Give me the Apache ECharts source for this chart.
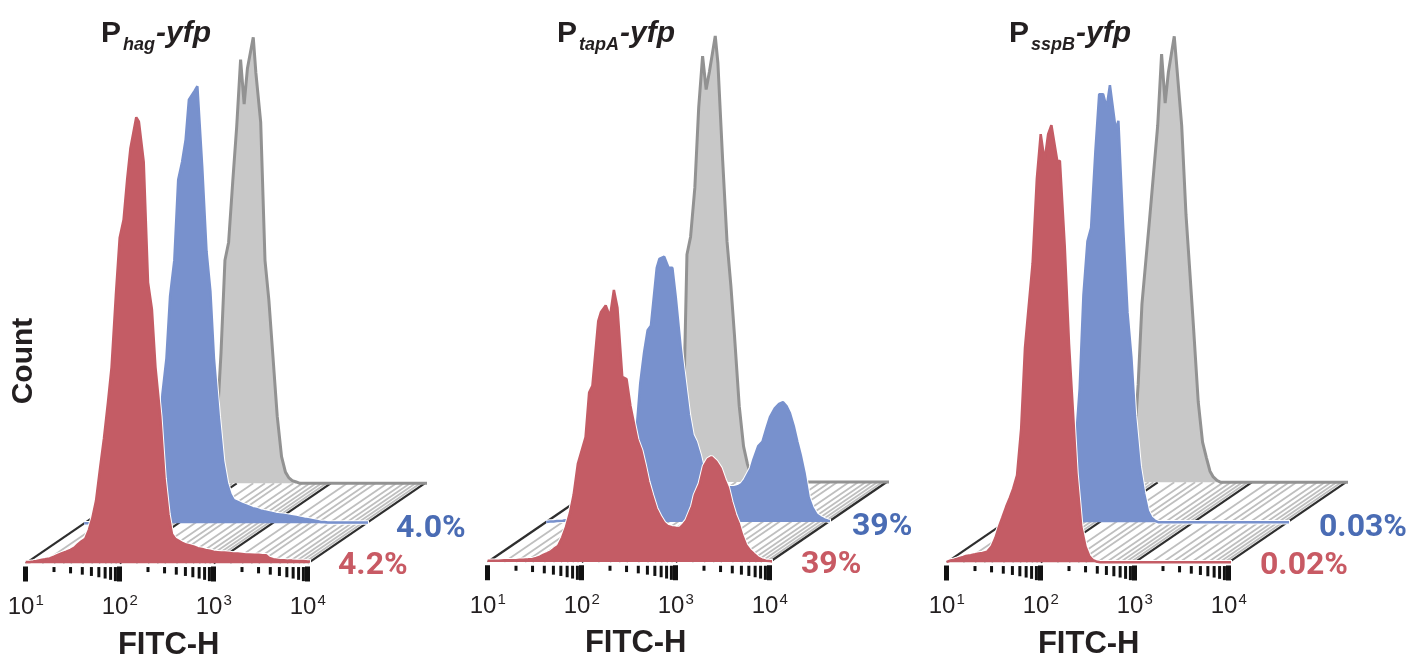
<!DOCTYPE html>
<html>
<head>
<meta charset="utf-8">
<script src="https://cdn.jsdelivr.net/npm/echarts@6/dist/echarts.min.js"></script>
<style>
html,body{margin:0;padding:0;background:#fff;}
#chart{width:1411px;height:657px;}
</style>
</head>
<body>
<div id="chart"></div>
<script>
// ---------------- DATA ----------------
// FITC-H bin values (log-spaced)
const bins = [10,11,12,13,15,16,18,20,22,24,27,30,33,36,39,43,47,51,56,62,68,75,82,91,
  100,110,120,130,150,160,180,200,220,240,270,300,330,360,390,430,470,510,560,620,680,750,820,910,
  1000,1100,1200,1300,1500,1600,1800,2000,2200,2400,2700,3000,3300,3600,3900,4300,4700,5100,5600,6200,6800,7500,8200,9100,
  10000,11000,13000];

// Panel 1: Phag-yfp (count, % of mode)
const hagRed = [0.3,0.3,0.4,0.5,0.8,0.9,1.1,1.5,1.9,2.2,2.6,3.0,3.5,4.3,4.9,5.5,7.5,10,14,21.5,28,36,44,60,
  73,77,86,93,100,99,90,63,57,44,33,19,11,6.5,5.5,5,4.5,4.2,4,3.7,3.4,3.2,3,2.8,
  2.6,2.5,2.4,2.4,2.3,2.2,2.2,2.1,2.0,2.0,1.9,1.9,1.8,1.8,1.2,0.9,0.8,0.7,0.7,0.6,0.6,0.5,0.5,0.5,
  0.4,0.4,null];
const hagBlue = [0,0,0,0.1,0.2,0.2,0.3,0.4,0.5,0.6,0.8,1,1.3,1.6,2,3,4.5,7,11,17,29,37,51,59,
  77,81,86,95,97,98,80,61,52,37,24,14,9,6.5,5.2,4.8,4.4,4.1,3.8,3.4,3.2,2.9,2.7,2.5,
  2.3,2.1,2.0,1.9,1.7,1.6,1.4,1.2,1.0,0.9,0.7,0.5,0.3,0.3,0.2,0.2,0.2,0.2,0.2,0.2,0.2,0.2,0.2,0.2,
  0.2,0.1,0];
const hagGray = [0,0,0,0,0,0,0,0,0,0,0,0,0,0,0.2,0.5,1,2.5,6,14,29,50,54,68,
  80,95,85,93,100,92,81,50,41,30,15,6,2.5,1.2,0.6,0.3,0,0,0,0,0,0,0,0,
  0,0,0,0,0,0,0,0,0,0,0,0,0,0,0,0,0,0,0,0,0,0,0,0,
  0,0,0];

// Panel 2: PtapA-yfp
const tapARed = [0.3,0.3,0.3,0.3,0.4,0.4,0.4,0.4,0.5,0.5,0.6,0.7,0.9,1.2,1.6,2.0,2.4,3.0,3.6,5.5,7.8,11,15,22,
  25,28,38,39.5,54,56,57.5,55,61,57,41.5,41,35,31,27.4,25,21.5,18,15,12,10.3,8.8,8.1,7.8,
  7.7,7.6,8.4,9.3,12.5,15,17.5,21.5,23,23.5,22.5,21,18.5,16.6,13.5,10.5,8.5,6,3.8,2.6,1.8,1.0,0.6,0.3,
  0.2,0.1,null];
const tapABlue = [0,0.1,0.1,0.2,0.3,0.4,0.5,0.6,0.8,1,1.3,1.7,2.2,2.8,3.5,4.5,5.5,7,8.5,10.5,12.5,15,17,20,
  31,38,43,44,57,59,59.5,57,57,50,39,31,24,19.5,18,15,11.5,10,9,8.6,8.3,8,7.8,7.8,
  7.8,8,8.5,9.5,12,14,17,18,21,23.5,25.5,26.5,26.9,26,24.5,21.5,18,15,11,5.5,3.2,1.7,1.1,0.6,
  0.3,0.1,0];
const tapAGray = [0,0,0,0,0,0,0,0,0,0,0,0,0,0,0,0,0.2,0.5,1,3,10,51,55,66,
  84,95.5,88,92,100,94,72,54,44,33,17,8,4,1.5,0.6,0.2,0,0,0,0,0,0,0,0,
  0,0,0,0,0,0,0,0,0,0,0,0,0,0,0,0,0,0,0,0,0,0,0,0,
  0,0,0];

// Panel 3: PsspB-yfp
const sspBRed = [0.1,0.4,0.6,0.8,1.2,1.4,1.6,1.8,2,2.1,2.4,3.5,5.5,8,10,12.5,14.5,16.5,19.5,30,48,58,67,86,
  96,90,96,98,90,90,71,49,34,20,8,3.5,1.3,0.5,0.2,0,0,0,0,0,0,0,0,0,
  0,0,0,0,0,0,0,0,0,0,0,0,0,0,0,0,0,0,0,0,0,0,0,0,
  0,0,null];
const sspBBlue = [0,0,0,0,0,0,0,0,0,0,0.3,0.5,0.8,1.2,2,3.5,6,10,17,30,51,63,66,83,
  96,96,93,98,88,90,66,47,37,24,12.5,6.5,2.5,1,0.4,0,0,0,0,0,0,0,0,0,
  0,0,0,0,0,0,0,0,0,0,0,0,0,0,0,0,0,0,0,0,0,0,0,0,
  0,0,0];
const sspBGray = [0,0,0,0,0,0,0,0,0,0,0,0,0,0,0.3,0.6,1.2,2.5,8,22,40,50,59,70,
  80,96,85,92,100,93,80,60,47,35,18,9,5.5,2.5,1.2,0.4,0,0,0,0,0,0,0,0,
  0,0,0,0,0,0,0,0,0,0,0,0,0,0,0,0,0,0,0,0,0,0,0,0,
  0,0,0];

const titleMain = ['P','P','P'];
const titleSub = ['hag','tapA','sspB'];
const titleTail = ['-yfp','-yfp','-yfp'];
const redPct = ['4.2%','39%','0.02%'];
const bluePct = ['4.0%','39%','0.03%'];
const majorTicks = [10,100,1000,10000];
const minorTicks = [20,30,40,50,60,70,80,90,200,300,400,500,600,700,800,900,2000,3000,4000,5000,6000,7000,8000,9000];
const floorHatch = [15,20,25,30,40,50,60,70,80,90,150,200,250,300,400,500,600,700,800,900,1500,2000,2500,3000,4000,5000,6000,7000,8000,9000];

// ---------------- LAYOUT / STYLE ----------------
const X0 = [25.7, 487.7, 946.7];
const BASE = [563.3, 562, 562.3];
const TITLE_LEFT = [101, 557, 1009];
const NAME_SHIFT = [2, 7, 1];
const BLUE_GAP = [28, 22, 30];
const RED_GAP = [28, 29, 29];
const W = 282, H = 446, DX = 58.5, DY = 40;
const RED = '#c45c65', BLUE = '#7891cd', GRAY_FILL = '#c8c8c8', GRAY_LINE = '#929292';
const RED_TEXT = '#c85a64', BLUE_TEXT = '#4a6cb4', DARK = '#231f20';

const redSets = [hagRed, tapARed, sspBRed];
const blueSets = [hagBlue, tapABlue, sspBBlue];
const graySets = [hagGray, tapAGray, sspBGray];

function pairs(arr){
  return bins.map((b,i)=>[b, arr[i]]).filter(d=>d[1]!==null);
}

const grids=[], xAxes=[], yAxes=[], series=[], titles=[];

for (let p=0;p<3;p++){
  const gi = 4*p;
  grids.push({left:X0[p]+2*DX, top:BASE[p]-2*DY-H, width:W, height:H});
  grids.push({left:X0[p]+DX, top:BASE[p]-DY-H, width:W, height:H});
  grids.push({left:X0[p], top:BASE[p]-H, width:W, height:H});
  grids.push({left:X0[p], top:BASE[p]+3, width:W, height:1});
  for (let k=0;k<3;k++){
    xAxes.push({type:'log', logBase:10, gridIndex:gi+k, min:10, max:10000, show:false});
    yAxes.push({type:'value', gridIndex:gi+k, min:0, max:100, show:false});
  }
  xAxes.push({
    type:'log', logBase:10, gridIndex:gi+3, min:10, max:10000,
    axisLine:{show:false},
    axisTick:{show:true, length:15, lineStyle:{color:'#111', width:5}},
    splitLine:{show:false},
    axisLabel:{
      show:true, margin:27,
      formatter:(v)=>'{b|10}{s|'+Math.round(Math.log10(v))+'}',
      rich:{
        b:{fontSize:24, lineHeight:28, color:DARK, fontFamily:'Liberation Sans'},
        s:{fontSize:15, lineHeight:20, verticalAlign:'top', color:DARK, fontFamily:'Liberation Sans', padding:[0,0,0,1]}
      }
    },
    name:'FITC-H', nameLocation:'middle', nameGap:63,
    nameTextStyle:{fontSize:31, fontWeight:'bold', color:DARK, fontFamily:'Liberation Sans', padding:[0,0,0,2*NAME_SHIFT[p]]}
  });
  yAxes.push({type:'value', gridIndex:gi+3, min:0, max:1, show:false});

  const base = {type:'line', symbol:'none', showSymbol:false, clip:false, silent:true, smooth:false};
  series.push(Object.assign({}, base, {
    xAxisIndex:gi, yAxisIndex:gi, z:2, data:pairs(graySets[p]),
    lineStyle:{color:GRAY_LINE, width:3}, areaStyle:{color:GRAY_FILL, opacity:1}
  }));
  series.push(Object.assign({}, base, {
    xAxisIndex:gi+1, yAxisIndex:gi+1, z:3, data:pairs(blueSets[p]),
    lineStyle:{color:'#ffffff', width:4.5}
  }));
  series.push(Object.assign({}, base, {
    xAxisIndex:gi+1, yAxisIndex:gi+1, z:4, data:pairs(blueSets[p]),
    lineStyle:{color:BLUE, width:2.5}, areaStyle:{color:BLUE, opacity:1},
    endLabel:{show:true, formatter:bluePct[p], color:BLUE_TEXT, fontSize:32, fontWeight:'bold', fontFamily:'Roboto', distance:BLUE_GAP[p], offset:[0,6]}
  }));
  series.push(Object.assign({}, base, {
    xAxisIndex:gi+2, yAxisIndex:gi+2, z:5, data:pairs(redSets[p]),
    lineStyle:{color:'#ffffff', width:4.5}
  }));
  series.push(Object.assign({}, base, {
    xAxisIndex:gi+2, yAxisIndex:gi+2, z:6, data:pairs(redSets[p]),
    lineStyle:{color:RED, width:2.5}, areaStyle:{color:RED, opacity:1},
    endLabel:{show:true, formatter:redPct[p], color:RED_TEXT, fontSize:32, fontWeight:'bold', fontFamily:'Roboto', distance:RED_GAP[p], offset:[0,4]}
  }));
  series.push({
    type:'custom', coordinateSystem:'cartesian2d', xAxisIndex:gi+3, yAxisIndex:gi+3, z:7, silent:true,
    data:minorTicks.map(v=>[v,0]),
    renderItem:(params, api)=>{
      const v = api.value(0);
      const pt = api.coord([v,0]);
      const m = v / Math.pow(10, Math.floor(Math.log10(v)+1e-9));
      const len = 5 + (m-2)*1.3;
      return {type:'rect', shape:{x:pt[0]-1.5, y:pt[1]+0.5, width:3, height:len}, style:{fill:'#111'}};
    }
  });

  titles.push({
    left:TITLE_LEFT[p], top:14, padding:0,
    text:'{p|'+titleMain[p]+'}{s|'+titleSub[p]+'}{y|'+titleTail[p]+'}',
    textStyle:{rich:{
      p:{fontSize:30, fontWeight:'bold', fontFamily:'Liberation Sans', color:DARK, lineHeight:40},
      s:{fontSize:18, fontWeight:'bold', fontStyle:'italic', fontFamily:'Liberation Sans', color:DARK, lineHeight:18, verticalAlign:'bottom', padding:[0,1,0,2]},
      y:{fontSize:30, fontWeight:'bold', fontStyle:'italic', fontFamily:'Liberation Sans', color:DARK, lineHeight:40}
    }}
  });
}

const countText = {
  type:'text', x:24, y:361, rotation:Math.PI/2, silent:true, z:10,
  style:{text:'Count', fontSize:30, fontWeight:'bold', fontFamily:'Liberation Sans', fill:DARK, align:'center', verticalAlign:'middle'}
};

const chart = echarts.init(document.getElementById('chart'), null, {renderer:'canvas'});
chart.setOption({
  animation:false,
  backgroundColor:'#ffffff',
  title:titles,
  grid:grids, xAxis:xAxes, yAxis:yAxes,
  series:series,
  graphic:[countText]
});

// perspective floor: lines from front (red) baseline to back (gray) baseline
const floorEls = [];
for (let p=0;p<3;p++){
  const gi = 4*p;
  floorHatch.forEach(v=>{
    const a = chart.convertToPixel({gridIndex:gi+2}, [v,0]);
    const b = chart.convertToPixel({gridIndex:gi}, [v,0]);
    floorEls.push({type:'line', silent:true, z:1, shape:{x1:a[0],y1:a[1],x2:b[0],y2:b[1]}, style:{stroke:'#bfbfbf', lineWidth:1.8}});
  });
  majorTicks.forEach(v=>{
    const a = chart.convertToPixel({gridIndex:gi+2}, [v,0]);
    const b = chart.convertToPixel({gridIndex:gi}, [v,0]);
    floorEls.push({type:'line', silent:true, z:1.5, shape:{x1:a[0],y1:a[1],x2:b[0],y2:b[1]}, style:{stroke:'#2e2e2e', lineWidth:2.2}});
  });
}
chart.setOption({graphic:[countText].concat(floorEls)});
</script>
</body>
</html>
